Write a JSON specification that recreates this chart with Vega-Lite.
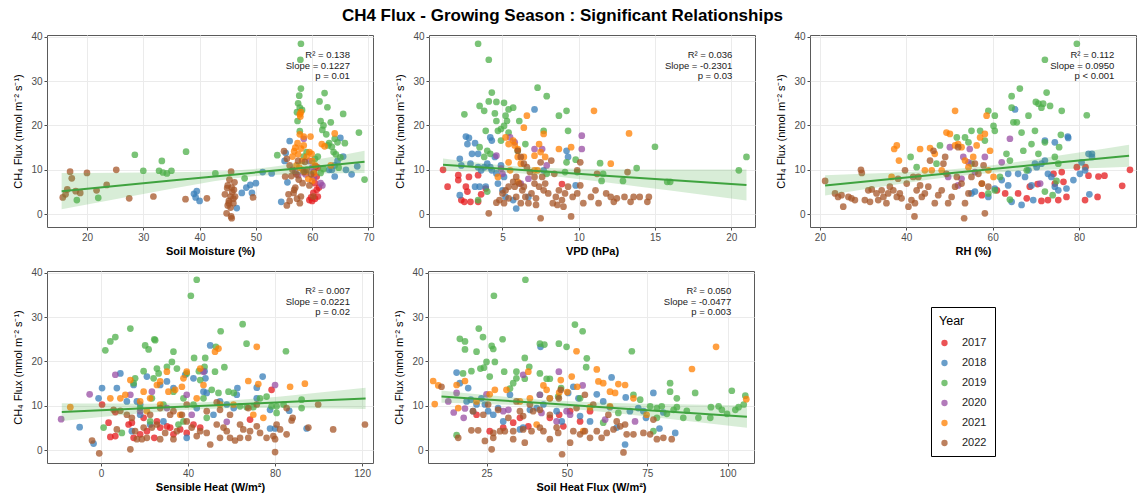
{
"$schema": "https://vega.github.io/schema/vega-lite/v6.json",
"autosize": {"type": "pad"},
"padding": {"left": 12, "top": 7, "right": 0, "bottom": 0},
"title": {"text": "CH4 Flux - Growing Season : Significant Relationships", "anchor": "middle", "fontSize": 17, "fontWeight": "bold", "color": "#000", "offset": 6, "dx": -12},
"spacing": 10,
"datasets": {
"stats": [
{"panel": "sm", "label": "R² = 0.138\nSlope = 0.1227\np = 0.01"},
{"panel": "vpd", "label": "R² = 0.036\nSlope = -0.2301\np = 0.03"},
{"panel": "rh", "label": "R² = 0.112\nSlope = 0.0950\np < 0.001"},
{"panel": "sh", "label": "R² = 0.007\nSlope = 0.0221\np = 0.02"},
{"panel": "shf", "label": "R² = 0.050\nSlope = -0.0477\np = 0.003"}
],
"sm_fit": [
{"x":15.5,"fit":5.2,"lo":1.12,"hi":9.28},{"x":25,"fit":6.37,"lo":3.39,"hi":9.35},{"x":35,"fit":7.59,"lo":5.73,"hi":9.45},{"x":45,"fit":8.81,"lo":7.87,"hi":9.75},{"x":52,"fit":9.67,"lo":8.8,"hi":10.54},{"x":60,"fit":10.66,"lo":9.14,"hi":12.18},{"x":69.3,"fit":11.8,"lo":9.27,"hi":14.33}
],
"vpd_fit": [
{"x":1.1,"fit":11.15,"lo":9.73,"hi":12.57},{"x":4,"fit":10.48,"lo":9.56,"hi":11.4},{"x":6.3,"fit":9.95,"lo":9.2,"hi":10.7},{"x":9,"fit":9.33,"lo":8.35,"hi":10.31},{"x":12,"fit":8.64,"lo":7.12,"hi":10.16},{"x":16,"fit":7.72,"lo":5.35,"hi":10.09},{"x":21,"fit":6.57,"lo":3.08,"hi":10.06}
],
"rh_fit": [
{"x":21.2,"fit":6.5,"lo":4.2,"hi":8.8},{"x":30,"fit":7.34,"lo":5.55,"hi":9.13},{"x":40,"fit":8.29,"lo":7.04,"hi":9.54},{"x":50,"fit":9.24,"lo":8.38,"hi":10.1},{"x":60,"fit":10.19,"lo":9.33,"hi":11.05},{"x":70,"fit":11.14,"lo":9.89,"hi":12.39},{"x":80,"fit":12.09,"lo":10.3,"hi":13.88},{"x":91.6,"fit":13.19,"lo":10.72,"hi":15.66}
],
"sh_fit": [
{"x":-18,"fit":8.6,"lo":6.6,"hi":10.6},{"x":0,"fit":9.0,"lo":7.48,"hi":10.52},{"x":20,"fit":9.44,"lo":8.39,"hi":10.49},{"x":45,"fit":9.99,"lo":9.24,"hi":10.74},{"x":70,"fit":10.54,"lo":9.49,"hi":11.59},{"x":95,"fit":11.09,"lo":9.44,"hi":12.74},{"x":121.6,"fit":11.68,"lo":9.31,"hi":14.05}
],
"shf_fit": [
{"x":11,"fit":12.1,"lo":10.72,"hi":13.48},{"x":25,"fit":11.43,"lo":10.44,"hi":12.42},{"x":42,"fit":10.62,"lo":9.87,"hi":11.37},{"x":60,"fit":9.76,"lo":8.75,"hi":10.77},{"x":80,"fit":8.8,"lo":7.19,"hi":10.41},{"x":106,"fit":7.57,"lo":5.06,"hi":10.08}
],
"sm": [
{"x":59.5,"y":3.2,"Year":"2017"},{"x":60,"y":3,"Year":"2017"},{"x":60.5,"y":3.5,"Year":"2017"},{"x":60.2,"y":4.8,"Year":"2017"},{"x":60.8,"y":5.5,"Year":"2017"},{"x":61,"y":4,"Year":"2017"},{"x":60.5,"y":7,"Year":"2017"},{"x":60.8,"y":8.5,"Year":"2017"},{"x":61,"y":10.5,"Year":"2017"},{"x":60.3,"y":9.5,"Year":"2017"},{"x":61.2,"y":6,"Year":"2017"},{"x":59.8,"y":3.8,"Year":"2017"},{"x":60.6,"y":10.8,"Year":"2017"},
{"x":39,"y":4.6,"Year":"2018"},{"x":39.5,"y":5.2,"Year":"2018"},{"x":40,"y":3.0,"Year":"2018"},{"x":39.3,"y":3.8,"Year":"2018"},{"x":46.6,"y":1.4,"Year":"2018"},{"x":47.5,"y":4.8,"Year":"2018"},{"x":48.3,"y":6.0,"Year":"2018"},{"x":49,"y":6.6,"Year":"2018"},{"x":50,"y":7.0,"Year":"2018"},{"x":49.3,"y":4.8,"Year":"2018"},{"x":51.2,"y":9.5,"Year":"2018"},{"x":52.8,"y":9.2,"Year":"2018"},{"x":54.5,"y":2.8,"Year":"2018"},{"x":55.3,"y":13.8,"Year":"2018"},{"x":56,"y":16.5,"Year":"2018"},{"x":55.1,"y":12.0,"Year":"2018"},{"x":55.6,"y":7.2,"Year":"2018"},{"x":63,"y":10,"Year":"2018"},{"x":64,"y":8.5,"Year":"2018"},{"x":64.5,"y":12,"Year":"2018"},{"x":65.5,"y":13,"Year":"2018"},{"x":66,"y":10,"Year":"2018"},{"x":67,"y":9,"Year":"2018"},{"x":68,"y":10.8,"Year":"2018"},{"x":65,"y":17.2,"Year":"2018"},{"x":64,"y":11,"Year":"2018"},{"x":63.5,"y":10,"Year":"2018"},
{"x":18.2,"y":3.2,"Year":"2019"},{"x":22,"y":3.7,"Year":"2019"},{"x":28.5,"y":13.4,"Year":"2019"},{"x":30,"y":9.8,"Year":"2019"},{"x":32.8,"y":9.8,"Year":"2019"},{"x":33.3,"y":12.0,"Year":"2019"},{"x":33.5,"y":9.4,"Year":"2019"},{"x":34.2,"y":9.2,"Year":"2019"},{"x":35,"y":9.8,"Year":"2019"},{"x":37.6,"y":14.1,"Year":"2019"},{"x":42.8,"y":9.2,"Year":"2019"},{"x":48,"y":8.1,"Year":"2019"},{"x":53.8,"y":13.3,"Year":"2019"},{"x":58,"y":38.4,"Year":"2019"},{"x":57.9,"y":34.8,"Year":"2019"},{"x":58,"y":28.3,"Year":"2019"},{"x":57.7,"y":26.7,"Year":"2019"},{"x":57.5,"y":25,"Year":"2019"},{"x":57.8,"y":24,"Year":"2019"},{"x":57.3,"y":23,"Year":"2019"},{"x":58.2,"y":23.5,"Year":"2019"},{"x":57.4,"y":21,"Year":"2019"},{"x":57.8,"y":18.7,"Year":"2019"},{"x":61.3,"y":25.4,"Year":"2019"},{"x":62.2,"y":27.3,"Year":"2019"},{"x":62.7,"y":24.1,"Year":"2019"},{"x":61.5,"y":21,"Year":"2019"},{"x":62,"y":20,"Year":"2019"},{"x":61.8,"y":19,"Year":"2019"},{"x":62.5,"y":18,"Year":"2019"},{"x":63.3,"y":20.7,"Year":"2019"},{"x":64,"y":17,"Year":"2019"},{"x":63,"y":16,"Year":"2019"},{"x":63.8,"y":14,"Year":"2019"},{"x":64.2,"y":13.5,"Year":"2019"},{"x":65.5,"y":22.6,"Year":"2019"},{"x":65.8,"y":16,"Year":"2019"},{"x":68.3,"y":18.4,"Year":"2019"},{"x":69.3,"y":7.8,"Year":"2019"},{"x":63.5,"y":15.2,"Year":"2019"},{"x":64.7,"y":10.5,"Year":"2019"},{"x":62,"y":10.2,"Year":"2019"},{"x":61.5,"y":9.3,"Year":"2019"},{"x":60.5,"y":12.5,"Year":"2019"},{"x":58.5,"y":13,"Year":"2019"},{"x":59,"y":14,"Year":"2019"},{"x":61,"y":13,"Year":"2019"},{"x":62.8,"y":15.5,"Year":"2019"},{"x":65,"y":12.8,"Year":"2019"},{"x":64.5,"y":16.2,"Year":"2019"},
{"x":58.5,"y":17,"Year":"2020"},{"x":57,"y":9.5,"Year":"2020"},{"x":59.5,"y":12,"Year":"2020"},{"x":60,"y":10.5,"Year":"2020"},{"x":61.5,"y":7,"Year":"2020"},{"x":60.3,"y":8.2,"Year":"2020"},{"x":58.8,"y":9,"Year":"2020"},{"x":57.5,"y":8.8,"Year":"2020"},{"x":61.8,"y":6.5,"Year":"2020"},
{"x":57.8,"y":22.5,"Year":"2021"},{"x":58,"y":23,"Year":"2021"},{"x":57.9,"y":22,"Year":"2021"},{"x":57.8,"y":18,"Year":"2021"},{"x":58.5,"y":17.5,"Year":"2021"},{"x":59.7,"y":17.5,"Year":"2021"},{"x":57,"y":15,"Year":"2021"},{"x":57.5,"y":13.5,"Year":"2021"},{"x":58,"y":14.8,"Year":"2021"},{"x":58.5,"y":15.5,"Year":"2021"},{"x":59,"y":13,"Year":"2021"},{"x":59.5,"y":14,"Year":"2021"},{"x":60,"y":12,"Year":"2021"},{"x":60.5,"y":11,"Year":"2021"},{"x":58.2,"y":12,"Year":"2021"},{"x":57.2,"y":11,"Year":"2021"},{"x":56.5,"y":13,"Year":"2021"},{"x":57.7,"y":10.5,"Year":"2021"},{"x":58.8,"y":9.5,"Year":"2021"},{"x":59.3,"y":8,"Year":"2021"},{"x":60,"y":7.5,"Year":"2021"},{"x":61.7,"y":15.8,"Year":"2021"},{"x":62.2,"y":15.3,"Year":"2021"},{"x":63.3,"y":11,"Year":"2021"},{"x":64,"y":18.2,"Year":"2021"},{"x":58.3,"y":10,"Year":"2021"},{"x":59.9,"y":13.6,"Year":"2021"},{"x":60.3,"y":9.2,"Year":"2021"},{"x":56.8,"y":14.2,"Year":"2021"},{"x":57.4,"y":16,"Year":"2021"},
{"x":15.7,"y":3.8,"Year":"2022"},{"x":16.2,"y":4.5,"Year":"2022"},{"x":16.5,"y":5.6,"Year":"2022"},{"x":17,"y":9.6,"Year":"2022"},{"x":17.3,"y":8.1,"Year":"2022"},{"x":18,"y":5.2,"Year":"2022"},{"x":18.8,"y":4.8,"Year":"2022"},{"x":20,"y":9.3,"Year":"2022"},{"x":21.7,"y":5.4,"Year":"2022"},{"x":23.5,"y":6.6,"Year":"2022"},{"x":25.2,"y":10,"Year":"2022"},{"x":27.5,"y":3.6,"Year":"2022"},{"x":31.8,"y":4.0,"Year":"2022"},{"x":37.5,"y":3.4,"Year":"2022"},{"x":41.3,"y":3.6,"Year":"2022"},{"x":49.5,"y":3.8,"Year":"2022"},{"x":44.8,"y":0.2,"Year":"2022"},{"x":45.6,"y":-0.5,"Year":"2022"},{"x":45.7,"y":-0.9,"Year":"2022"},{"x":45,"y":2,"Year":"2022"},{"x":45.2,"y":3,"Year":"2022"},{"x":45.5,"y":4,"Year":"2022"},{"x":45.8,"y":5,"Year":"2022"},{"x":46,"y":3.5,"Year":"2022"},{"x":44.9,"y":5.9,"Year":"2022"},{"x":45.3,"y":7.8,"Year":"2022"},{"x":45.6,"y":9.6,"Year":"2022"},{"x":46.2,"y":7.2,"Year":"2022"},{"x":45,"y":6.5,"Year":"2022"},{"x":45.5,"y":1.5,"Year":"2022"},{"x":46,"y":2.5,"Year":"2022"},{"x":44.5,"y":4.5,"Year":"2022"},{"x":46.3,"y":4,"Year":"2022"},{"x":45.2,"y":2.5,"Year":"2022"},{"x":45.7,"y":6,"Year":"2022"},{"x":46.1,"y":5.5,"Year":"2022"},{"x":55,"y":14.2,"Year":"2022"},{"x":55.5,"y":12.5,"Year":"2022"},{"x":56,"y":11,"Year":"2022"},{"x":56.3,"y":8.6,"Year":"2022"},{"x":56.5,"y":10,"Year":"2022"},{"x":55.8,"y":4.5,"Year":"2022"},{"x":56,"y":3,"Year":"2022"},{"x":55.5,"y":2,"Year":"2022"},{"x":56.7,"y":4.8,"Year":"2022"},{"x":57,"y":6,"Year":"2022"},{"x":57.2,"y":9,"Year":"2022"},{"x":57.5,"y":12,"Year":"2022"},{"x":57.8,"y":2.5,"Year":"2022"},{"x":58,"y":4,"Year":"2022"},{"x":58.3,"y":7,"Year":"2022"},{"x":58.5,"y":9.5,"Year":"2022"},{"x":59,"y":10,"Year":"2022"},{"x":59.5,"y":6.5,"Year":"2022"},{"x":59.8,"y":9,"Year":"2022"},{"x":60.2,"y":4,"Year":"2022"},{"x":57.3,"y":3.5,"Year":"2022"},{"x":56.8,"y":5.5,"Year":"2022"},{"x":55.2,"y":8.5,"Year":"2022"},{"x":57.6,"y":7.8,"Year":"2022"},{"x":58.7,"y":11.8,"Year":"2022"}
],
"vpd": [
{"x":1.1,"y":10,"Year":"2017"},{"x":1.4,"y":6.2,"Year":"2017"},{"x":2.1,"y":8.8,"Year":"2017"},{"x":2.1,"y":7.7,"Year":"2017"},{"x":2.3,"y":3.2,"Year":"2017"},{"x":2.6,"y":6.2,"Year":"2017"},{"x":2.7,"y":5.1,"Year":"2017"},{"x":2.5,"y":2.8,"Year":"2017"},{"x":2.8,"y":8.4,"Year":"2017"},{"x":2.9,"y":2.8,"Year":"2017"},{"x":3.4,"y":8.8,"Year":"2017"},{"x":3.6,"y":4.5,"Year":"2017"},{"x":3.9,"y":5.8,"Year":"2017"},{"x":8.9,"y":6.8,"Year":"2017"},{"x":3.4,"y":2.8,"Year":"2017"},
{"x":2.2,"y":12.5,"Year":"2018"},{"x":2.3,"y":11,"Year":"2018"},{"x":2.2,"y":4.3,"Year":"2018"},{"x":2.6,"y":17.5,"Year":"2018"},{"x":2.8,"y":17.2,"Year":"2018"},{"x":2.7,"y":15.8,"Year":"2018"},{"x":3.2,"y":16,"Year":"2018"},{"x":3.0,"y":13.6,"Year":"2018"},{"x":3.4,"y":13.6,"Year":"2018"},{"x":2.9,"y":11.4,"Year":"2018"},{"x":3.4,"y":10.6,"Year":"2018"},{"x":3.6,"y":9.9,"Year":"2018"},{"x":3.8,"y":10.6,"Year":"2018"},{"x":4.0,"y":11.4,"Year":"2018"},{"x":4.2,"y":10.6,"Year":"2018"},{"x":4.5,"y":12.9,"Year":"2018"},{"x":4.3,"y":9.9,"Year":"2018"},{"x":4.6,"y":9.2,"Year":"2018"},{"x":3.2,"y":6.2,"Year":"2018"},{"x":3.5,"y":6.2,"Year":"2018"},{"x":3.9,"y":6.2,"Year":"2018"},{"x":4.2,"y":17.3,"Year":"2018"},{"x":4.3,"y":16.6,"Year":"2018"},{"x":4.7,"y":6.9,"Year":"2018"},{"x":5.0,"y":5.4,"Year":"2018"},{"x":5.2,"y":3.9,"Year":"2018"},{"x":5.7,"y":3.2,"Year":"2018"},{"x":5.9,"y":1.3,"Year":"2018"},{"x":6.7,"y":3.9,"Year":"2018"},{"x":7.1,"y":23.6,"Year":"2018"},{"x":7.7,"y":9.9,"Year":"2018"},{"x":9.2,"y":14.3,"Year":"2018"},{"x":9.3,"y":12.9,"Year":"2018"},{"x":9.8,"y":6.5,"Year":"2018"},{"x":4.9,"y":11,"Year":"2018"},{"x":5.1,"y":8.4,"Year":"2018"},
{"x":3.4,"y":38.4,"Year":"2019"},{"x":4.1,"y":34.8,"Year":"2019"},{"x":4.3,"y":27.4,"Year":"2019"},{"x":4.1,"y":25.4,"Year":"2019"},{"x":4.6,"y":25.3,"Year":"2019"},{"x":3.5,"y":24.4,"Year":"2019"},{"x":3.8,"y":23.3,"Year":"2019"},{"x":4.5,"y":22.7,"Year":"2019"},{"x":2.5,"y":22.5,"Year":"2019"},{"x":5.1,"y":25.1,"Year":"2019"},{"x":5.2,"y":22.2,"Year":"2019"},{"x":5.3,"y":21.0,"Year":"2019"},{"x":5.7,"y":24.0,"Year":"2019"},{"x":5.4,"y":23.6,"Year":"2019"},{"x":4.6,"y":21.0,"Year":"2019"},{"x":4.7,"y":18.8,"Year":"2019"},{"x":4.9,"y":19.2,"Year":"2019"},{"x":5.1,"y":19.9,"Year":"2019"},{"x":5.4,"y":18.4,"Year":"2019"},{"x":6.1,"y":21.0,"Year":"2019"},{"x":6.5,"y":15.8,"Year":"2019"},{"x":7.3,"y":28.5,"Year":"2019"},{"x":7.9,"y":26.6,"Year":"2019"},{"x":8.7,"y":22.2,"Year":"2019"},{"x":9.2,"y":23.3,"Year":"2019"},{"x":9.3,"y":18.8,"Year":"2019"},{"x":7.7,"y":18.8,"Year":"2019"},{"x":3.5,"y":15.1,"Year":"2019"},{"x":3.8,"y":12.9,"Year":"2019"},{"x":4.0,"y":14.3,"Year":"2019"},{"x":4.2,"y":13.6,"Year":"2019"},{"x":6.0,"y":14.3,"Year":"2019"},{"x":9.8,"y":12.3,"Year":"2019"},{"x":9.2,"y":11.7,"Year":"2019"},{"x":9.9,"y":9.5,"Year":"2019"},{"x":9.1,"y":9.5,"Year":"2019"},{"x":11.4,"y":11.5,"Year":"2019"},{"x":11.5,"y":7.5,"Year":"2019"},{"x":11.6,"y":9.1,"Year":"2019"},{"x":12.9,"y":7.5,"Year":"2019"},{"x":13.8,"y":10.4,"Year":"2019"},{"x":15.0,"y":15.2,"Year":"2019"},{"x":15.8,"y":7.3,"Year":"2019"},{"x":16.0,"y":7.3,"Year":"2019"},{"x":20.5,"y":9.9,"Year":"2019"},{"x":21.0,"y":12.9,"Year":"2019"},{"x":3.4,"y":3.2,"Year":"2019"},{"x":4.0,"y":5.1,"Year":"2019"},{"x":7.9,"y":9.1,"Year":"2019"},{"x":4.9,"y":16.6,"Year":"2019"},{"x":3.9,"y":18.8,"Year":"2019"},
{"x":4.6,"y":13.2,"Year":"2020"},{"x":4.9,"y":10.3,"Year":"2020"},{"x":5.5,"y":17.3,"Year":"2020"},{"x":5.8,"y":16.2,"Year":"2020"},{"x":7.1,"y":14.7,"Year":"2020"},{"x":7.6,"y":14.7,"Year":"2020"},{"x":7.9,"y":11.0,"Year":"2020"},{"x":10.2,"y":17.7,"Year":"2020"},{"x":10.2,"y":14.7,"Year":"2020"},{"x":6.2,"y":6.9,"Year":"2020"},{"x":6.7,"y":8.0,"Year":"2020"},{"x":5.0,"y":9.1,"Year":"2020"},
{"x":5.2,"y":17.3,"Year":"2021"},{"x":5.4,"y":15.8,"Year":"2021"},{"x":5.7,"y":16.6,"Year":"2021"},{"x":5.8,"y":15.5,"Year":"2021"},{"x":6.0,"y":14.7,"Year":"2021"},{"x":6.4,"y":19.5,"Year":"2021"},{"x":6.6,"y":22.2,"Year":"2021"},{"x":7.7,"y":18.1,"Year":"2021"},{"x":7.5,"y":14.0,"Year":"2021"},{"x":7.1,"y":13.2,"Year":"2021"},{"x":7.4,"y":15.8,"Year":"2021"},{"x":7.8,"y":12.9,"Year":"2021"},{"x":8.7,"y":14.7,"Year":"2021"},{"x":9.5,"y":15.1,"Year":"2021"},{"x":11.0,"y":23.3,"Year":"2021"},{"x":12.1,"y":11.4,"Year":"2021"},{"x":13.3,"y":18.2,"Year":"2021"},{"x":6.0,"y":12.9,"Year":"2021"},{"x":6.2,"y":11.4,"Year":"2021"},{"x":5.5,"y":9.9,"Year":"2021"},{"x":7.3,"y":9.9,"Year":"2021"},{"x":4.7,"y":8.4,"Year":"2021"},{"x":6.0,"y":7.3,"Year":"2021"},{"x":6.4,"y":12.9,"Year":"2021"},{"x":5.4,"y":11.7,"Year":"2021"},{"x":7.1,"y":9.9,"Year":"2021"},
{"x":4.1,"y":0.2,"Year":"2022"},{"x":7.5,"y":-0.9,"Year":"2022"},{"x":9.5,"y":-0.5,"Year":"2022"},{"x":4.6,"y":2.6,"Year":"2022"},{"x":4.8,"y":3.2,"Year":"2022"},{"x":5.0,"y":4.7,"Year":"2022"},{"x":5.2,"y":5.4,"Year":"2022"},{"x":5.4,"y":6.2,"Year":"2022"},{"x":5.7,"y":7.3,"Year":"2022"},{"x":5.9,"y":8.4,"Year":"2022"},{"x":6.1,"y":6.9,"Year":"2022"},{"x":6.3,"y":5.4,"Year":"2022"},{"x":6.5,"y":3.9,"Year":"2022"},{"x":6.7,"y":2.5,"Year":"2022"},{"x":6.9,"y":4.7,"Year":"2022"},{"x":7.2,"y":3.6,"Year":"2022"},{"x":7.4,"y":6.2,"Year":"2022"},{"x":7.6,"y":8.4,"Year":"2022"},{"x":7.8,"y":6.9,"Year":"2022"},{"x":8.0,"y":4.7,"Year":"2022"},{"x":8.3,"y":2.5,"Year":"2022"},{"x":8.5,"y":3.9,"Year":"2022"},{"x":8.7,"y":5.4,"Year":"2022"},{"x":8.9,"y":3.2,"Year":"2022"},{"x":9.1,"y":4.7,"Year":"2022"},{"x":9.3,"y":6.2,"Year":"2022"},{"x":9.6,"y":3.9,"Year":"2022"},{"x":9.9,"y":4.7,"Year":"2022"},{"x":10.1,"y":6.5,"Year":"2022"},{"x":10.3,"y":2.5,"Year":"2022"},{"x":10.8,"y":3.9,"Year":"2022"},{"x":11.1,"y":5.4,"Year":"2022"},{"x":11.3,"y":2.5,"Year":"2022"},{"x":11.8,"y":4.7,"Year":"2022"},{"x":12.1,"y":3.9,"Year":"2022"},{"x":12.3,"y":2.8,"Year":"2022"},{"x":12.5,"y":3.6,"Year":"2022"},{"x":13.0,"y":3.9,"Year":"2022"},{"x":13.4,"y":2.8,"Year":"2022"},{"x":13.6,"y":3.9,"Year":"2022"},{"x":14.0,"y":3.9,"Year":"2022"},{"x":14.5,"y":2.8,"Year":"2022"},{"x":14.6,"y":3.9,"Year":"2022"},{"x":9.9,"y":9.9,"Year":"2022"},{"x":10.1,"y":11.7,"Year":"2022"},{"x":11.2,"y":9.1,"Year":"2022"},{"x":13.2,"y":9.5,"Year":"2022"},{"x":6.0,"y":14.3,"Year":"2022"},{"x":6.2,"y":12.9,"Year":"2022"},{"x":6.4,"y":11.4,"Year":"2022"},{"x":6.6,"y":10.6,"Year":"2022"},{"x":6.8,"y":9.5,"Year":"2022"},{"x":7.1,"y":8.4,"Year":"2022"},{"x":7.5,"y":11.7,"Year":"2022"},{"x":8.2,"y":12.1,"Year":"2022"},{"x":8.4,"y":9.1,"Year":"2022"},{"x":5.1,"y":2.5,"Year":"2022"},{"x":5.4,"y":3.6,"Year":"2022"},{"x":5.9,"y":3.9,"Year":"2022"},{"x":6.2,"y":2.5,"Year":"2022"},{"x":7.2,"y":2.1,"Year":"2022"},{"x":8.6,"y":2.1,"Year":"2022"},{"x":9.0,"y":1.7,"Year":"2022"},{"x":5.8,"y":6.2,"Year":"2022"},{"x":6.4,"y":6.2,"Year":"2022"},{"x":7.1,"y":6.9,"Year":"2022"},{"x":7.7,"y":5.4,"Year":"2022"}
],
"rh": [
{"x":91.8,"y":10.0,"Year":"2017"},{"x":90.0,"y":6.4,"Year":"2017"},{"x":85.9,"y":8.7,"Year":"2017"},{"x":84.5,"y":8.5,"Year":"2017"},{"x":82.2,"y":8.7,"Year":"2017"},{"x":81.5,"y":10.6,"Year":"2017"},{"x":84.3,"y":3.9,"Year":"2017"},{"x":81.4,"y":3.2,"Year":"2017"},{"x":79.5,"y":10.6,"Year":"2017"},{"x":76.0,"y":9.5,"Year":"2017"},{"x":74.4,"y":6.9,"Year":"2017"},{"x":72.8,"y":3.2,"Year":"2017"},{"x":71.3,"y":3.0,"Year":"2017"},{"x":67.9,"y":3.6,"Year":"2017"},{"x":65.9,"y":4.7,"Year":"2017"},{"x":68.6,"y":6.2,"Year":"2017"},{"x":70.4,"y":6.8,"Year":"2017"},{"x":75.2,"y":3.2,"Year":"2017"},{"x":77.1,"y":3.9,"Year":"2017"},{"x":62.9,"y":4.7,"Year":"2017"},{"x":61.0,"y":5.4,"Year":"2017"},{"x":57.5,"y":4.3,"Year":"2017"},{"x":76.4,"y":7.3,"Year":"2017"},{"x":74.1,"y":9.1,"Year":"2017"},
{"x":65.2,"y":23.6,"Year":"2018"},{"x":72.1,"y":16.6,"Year":"2018"},{"x":74.4,"y":16.2,"Year":"2018"},{"x":77.4,"y":17.5,"Year":"2018"},{"x":77.5,"y":17.2,"Year":"2018"},{"x":80.6,"y":11.7,"Year":"2018"},{"x":82.2,"y":13.6,"Year":"2018"},{"x":83.0,"y":13.6,"Year":"2018"},{"x":83.0,"y":12.9,"Year":"2018"},{"x":82.4,"y":4.5,"Year":"2018"},{"x":66.7,"y":2.1,"Year":"2018"},{"x":64.4,"y":2.8,"Year":"2018"},{"x":69.4,"y":3.2,"Year":"2018"},{"x":69.0,"y":6.5,"Year":"2018"},{"x":67.5,"y":8.4,"Year":"2018"},{"x":68.3,"y":9.9,"Year":"2018"},{"x":69.8,"y":11.4,"Year":"2018"},{"x":70.2,"y":10.6,"Year":"2018"},{"x":71.3,"y":11.4,"Year":"2018"},{"x":72.1,"y":12.1,"Year":"2018"},{"x":72.8,"y":9.1,"Year":"2018"},{"x":73.6,"y":8.4,"Year":"2018"},{"x":74.4,"y":6.2,"Year":"2018"},{"x":75.2,"y":5.4,"Year":"2018"},{"x":77.1,"y":5.8,"Year":"2018"},{"x":78.7,"y":7.7,"Year":"2018"},{"x":63.6,"y":9.1,"Year":"2018"},{"x":62.1,"y":7.7,"Year":"2018"},{"x":60.5,"y":5.8,"Year":"2018"},{"x":59.0,"y":3.9,"Year":"2018"},{"x":55.1,"y":4.7,"Year":"2018"},{"x":55.9,"y":5.1,"Year":"2018"},{"x":63.6,"y":6.5,"Year":"2018"},{"x":65.9,"y":9.1,"Year":"2018"},{"x":81.4,"y":9.9,"Year":"2018"},{"x":80.2,"y":9.1,"Year":"2018"},
{"x":79.5,"y":38.4,"Year":"2019"},{"x":72.1,"y":34.8,"Year":"2019"},{"x":66.3,"y":28.3,"Year":"2019"},{"x":64.4,"y":26.6,"Year":"2019"},{"x":72.5,"y":27.4,"Year":"2019"},{"x":64.4,"y":24.0,"Year":"2019"},{"x":68.3,"y":22.2,"Year":"2019"},{"x":70.0,"y":25.3,"Year":"2019"},{"x":70.6,"y":24.9,"Year":"2019"},{"x":71.7,"y":24.9,"Year":"2019"},{"x":71.3,"y":24.0,"Year":"2019"},{"x":73.3,"y":24.4,"Year":"2019"},{"x":76.0,"y":23.3,"Year":"2019"},{"x":81.8,"y":22.3,"Year":"2019"},{"x":59.0,"y":23.3,"Year":"2019"},{"x":60.5,"y":22.2,"Year":"2019"},{"x":60.2,"y":19.9,"Year":"2019"},{"x":60.5,"y":18.8,"Year":"2019"},{"x":64.8,"y":20.7,"Year":"2019"},{"x":65.6,"y":20.7,"Year":"2019"},{"x":66.7,"y":18.4,"Year":"2019"},{"x":72.1,"y":16.2,"Year":"2019"},{"x":69.0,"y":15.8,"Year":"2019"},{"x":69.8,"y":18.8,"Year":"2019"},{"x":75.4,"y":15.1,"Year":"2019"},{"x":75.8,"y":17.9,"Year":"2019"},{"x":55.1,"y":18.8,"Year":"2019"},{"x":57.1,"y":18.8,"Year":"2019"},{"x":58.2,"y":16.6,"Year":"2019"},{"x":54.4,"y":16.2,"Year":"2019"},{"x":53.6,"y":17.3,"Year":"2019"},{"x":51.7,"y":17.3,"Year":"2019"},{"x":47.8,"y":15.5,"Year":"2019"},{"x":41.0,"y":12.9,"Year":"2019"},{"x":42.4,"y":10.6,"Year":"2019"},{"x":47.0,"y":11.4,"Year":"2019"},{"x":63.2,"y":13.6,"Year":"2019"},{"x":64.0,"y":12.1,"Year":"2019"},{"x":67.1,"y":14.3,"Year":"2019"},{"x":70.6,"y":13.6,"Year":"2019"},{"x":74.4,"y":12.9,"Year":"2019"},{"x":75.2,"y":11.4,"Year":"2019"},{"x":74.8,"y":7.5,"Year":"2019"},{"x":73.9,"y":4.3,"Year":"2019"},{"x":64.0,"y":3.3,"Year":"2019"},{"x":60.5,"y":5.4,"Year":"2019"},{"x":59.0,"y":4.7,"Year":"2019"},{"x":72.1,"y":5.1,"Year":"2019"},{"x":61.7,"y":8.4,"Year":"2019"},{"x":67.9,"y":9.9,"Year":"2019"},{"x":55.1,"y":11.4,"Year":"2019"},
{"x":50.1,"y":15.1,"Year":"2020"},{"x":53.2,"y":12.9,"Year":"2020"},{"x":54.7,"y":14.7,"Year":"2020"},{"x":54.4,"y":11.7,"Year":"2020"},{"x":52.0,"y":6.5,"Year":"2020"},{"x":52.8,"y":8.0,"Year":"2020"},{"x":55.9,"y":9.5,"Year":"2020"},{"x":58.2,"y":12.9,"Year":"2020"},{"x":62.1,"y":11.7,"Year":"2020"},{"x":64.0,"y":17.0,"Year":"2020"},{"x":71.0,"y":6.9,"Year":"2020"},{"x":49.7,"y":8.4,"Year":"2020"},
{"x":36.6,"y":8.4,"Year":"2021"},{"x":37.2,"y":14.7,"Year":"2021"},{"x":37.8,"y":15.5,"Year":"2021"},{"x":38.3,"y":12.1,"Year":"2021"},{"x":43.2,"y":14.7,"Year":"2021"},{"x":45.5,"y":14.9,"Year":"2021"},{"x":46.6,"y":13.6,"Year":"2021"},{"x":49.3,"y":18.4,"Year":"2021"},{"x":50.1,"y":18.1,"Year":"2021"},{"x":51.3,"y":23.3,"Year":"2021"},{"x":51.3,"y":15.5,"Year":"2021"},{"x":52.0,"y":15.8,"Year":"2021"},{"x":52.8,"y":15.1,"Year":"2021"},{"x":53.6,"y":12.1,"Year":"2021"},{"x":54.4,"y":10.6,"Year":"2021"},{"x":55.5,"y":12.9,"Year":"2021"},{"x":56.3,"y":15.5,"Year":"2021"},{"x":57.1,"y":17.3,"Year":"2021"},{"x":58.2,"y":18.1,"Year":"2021"},{"x":58.6,"y":22.2,"Year":"2021"},{"x":59.4,"y":14.3,"Year":"2021"},{"x":59.0,"y":9.9,"Year":"2021"},{"x":60.2,"y":8.4,"Year":"2021"},{"x":48.2,"y":9.9,"Year":"2021"},{"x":44.3,"y":9.9,"Year":"2021"},{"x":45.9,"y":9.9,"Year":"2021"},{"x":57.5,"y":6.9,"Year":"2021"},
{"x":21.2,"y":7.5,"Year":"2022"},{"x":23.5,"y":4.7,"Year":"2022"},{"x":24.2,"y":3.9,"Year":"2022"},{"x":25.0,"y":4.3,"Year":"2022"},{"x":25.4,"y":1.7,"Year":"2022"},{"x":26.6,"y":3.9,"Year":"2022"},{"x":27.3,"y":3.6,"Year":"2022"},{"x":28.1,"y":3.2,"Year":"2022"},{"x":29.7,"y":9.3,"Year":"2022"},{"x":29.5,"y":10.0,"Year":"2022"},{"x":30.4,"y":3.2,"Year":"2022"},{"x":31.6,"y":2.8,"Year":"2022"},{"x":32.0,"y":5.6,"Year":"2022"},{"x":33.1,"y":4.7,"Year":"2022"},{"x":33.5,"y":3.2,"Year":"2022"},{"x":34.3,"y":5.4,"Year":"2022"},{"x":34.7,"y":3.9,"Year":"2022"},{"x":35.4,"y":2.5,"Year":"2022"},{"x":35.8,"y":4.7,"Year":"2022"},{"x":36.2,"y":6.2,"Year":"2022"},{"x":38.1,"y":8.0,"Year":"2022"},{"x":38.5,"y":4.7,"Year":"2022"},{"x":38.9,"y":3.6,"Year":"2022"},{"x":39.7,"y":9.9,"Year":"2022"},{"x":40.1,"y":6.9,"Year":"2022"},{"x":40.5,"y":1.7,"Year":"2022"},{"x":41.2,"y":3.2,"Year":"2022"},{"x":41.9,"y":-0.5,"Year":"2022"},{"x":42.0,"y":2.5,"Year":"2022"},{"x":42.4,"y":5.4,"Year":"2022"},{"x":42.8,"y":8.4,"Year":"2022"},{"x":43.2,"y":6.5,"Year":"2022"},{"x":43.6,"y":3.9,"Year":"2022"},{"x":44.3,"y":4.7,"Year":"2022"},{"x":45.1,"y":6.2,"Year":"2022"},{"x":45.5,"y":12.1,"Year":"2022"},{"x":46.3,"y":14.3,"Year":"2022"},{"x":46.6,"y":2.5,"Year":"2022"},{"x":47.4,"y":4.3,"Year":"2022"},{"x":48.2,"y":5.4,"Year":"2022"},{"x":48.6,"y":11.4,"Year":"2022"},{"x":49.0,"y":12.9,"Year":"2022"},{"x":49.3,"y":9.1,"Year":"2022"},{"x":49.7,"y":2.5,"Year":"2022"},{"x":50.5,"y":3.9,"Year":"2022"},{"x":51.3,"y":6.2,"Year":"2022"},{"x":51.7,"y":8.4,"Year":"2022"},{"x":52.0,"y":15.1,"Year":"2022"},{"x":52.8,"y":6.9,"Year":"2022"},{"x":53.4,"y":-0.9,"Year":"2022"},{"x":53.6,"y":2.5,"Year":"2022"},{"x":54.4,"y":4.7,"Year":"2022"},{"x":55.1,"y":8.4,"Year":"2022"},{"x":57.5,"y":6.9,"Year":"2022"},{"x":58.2,"y":0.2,"Year":"2022"},{"x":59.0,"y":6.2,"Year":"2022"},{"x":55.9,"y":11.4,"Year":"2022"},{"x":56.7,"y":9.1,"Year":"2022"},{"x":57.9,"y":11.0,"Year":"2022"},{"x":37.8,"y":3.9,"Year":"2022"},{"x":37.0,"y":5.4,"Year":"2022"},{"x":31.2,"y":5.4,"Year":"2022"},{"x":41.6,"y":8.4,"Year":"2022"}
],
"sh": [
{"x":0.5,"y":10.3,"Year":"2017"},{"x":3.5,"y":6.2,"Year":"2017"},{"x":4.3,"y":3.0,"Year":"2017"},{"x":6.6,"y":3.2,"Year":"2017"},{"x":6.6,"y":8.6,"Year":"2017"},{"x":12.7,"y":5.8,"Year":"2017"},{"x":14.2,"y":6.2,"Year":"2017"},{"x":15.0,"y":2.8,"Year":"2017"},{"x":19.6,"y":7.3,"Year":"2017"},{"x":21.1,"y":4.3,"Year":"2017"},{"x":24.5,"y":2.8,"Year":"2017"},{"x":27.2,"y":5.1,"Year":"2017"},{"x":30.3,"y":5.4,"Year":"2017"},{"x":31.8,"y":5.1,"Year":"2017"},{"x":33.3,"y":3.6,"Year":"2017"},{"x":36.4,"y":4.7,"Year":"2017"},{"x":39.4,"y":3.9,"Year":"2017"},{"x":42.5,"y":5.8,"Year":"2017"},{"x":45.6,"y":5.1,"Year":"2017"},{"x":68.5,"y":6.9,"Year":"2017"},{"x":78.4,"y":13.6,"Year":"2017"},{"x":25.7,"y":6.5,"Year":"2017"},{"x":18.0,"y":3.6,"Year":"2017"},
{"x":50.2,"y":23.6,"Year":"2018"},{"x":-9.8,"y":5.2,"Year":"2018"},{"x":-3.4,"y":1.5,"Year":"2018"},{"x":-1.1,"y":11.7,"Year":"2018"},{"x":0.5,"y":14.0,"Year":"2018"},{"x":8.9,"y":17.3,"Year":"2018"},{"x":15,"y":14.7,"Year":"2018"},{"x":16.5,"y":11.0,"Year":"2018"},{"x":21.1,"y":16.6,"Year":"2018"},{"x":27.2,"y":14.7,"Year":"2018"},{"x":30.3,"y":15.5,"Year":"2018"},{"x":33.3,"y":14.0,"Year":"2018"},{"x":38.7,"y":17.0,"Year":"2018"},{"x":42.5,"y":16.2,"Year":"2018"},{"x":47.6,"y":17.8,"Year":"2018"},{"x":48.0,"y":16.2,"Year":"2018"},{"x":47.1,"y":13.2,"Year":"2018"},{"x":48.6,"y":12.9,"Year":"2018"},{"x":54.7,"y":11.0,"Year":"2018"},{"x":57.8,"y":10.3,"Year":"2018"},{"x":61.0,"y":9.5,"Year":"2018"},{"x":62.7,"y":14.0,"Year":"2018"},{"x":62.4,"y":12.5,"Year":"2018"},{"x":71.6,"y":14.1,"Year":"2018"},{"x":74.3,"y":16.6,"Year":"2018"},{"x":71.6,"y":11.7,"Year":"2018"},{"x":77.7,"y":9.1,"Year":"2018"},{"x":80.0,"y":4.9,"Year":"2018"},{"x":77.7,"y":4.9,"Year":"2018"},{"x":86.5,"y":8.9,"Year":"2018"},{"x":94.5,"y":4.9,"Year":"2018"},{"x":7.3,"y":14.0,"Year":"2018"},{"x":18,"y":8.0,"Year":"2018"},{"x":22.6,"y":5.8,"Year":"2018"},{"x":28.7,"y":6.5,"Year":"2018"},{"x":39.4,"y":2.8,"Year":"2018"},{"x":18.0,"y":10.3,"Year":"2018"},{"x":11.9,"y":11.0,"Year":"2018"},{"x":44.0,"y":9.5,"Year":"2018"},{"x":51.7,"y":8.0,"Year":"2018"},{"x":14.2,"y":4.3,"Year":"2018"},
{"x":44.0,"y":38.4,"Year":"2019"},{"x":41.3,"y":34.8,"Year":"2019"},{"x":13.5,"y":27.4,"Year":"2019"},{"x":6.6,"y":25.5,"Year":"2019"},{"x":4.3,"y":24.5,"Year":"2019"},{"x":2.0,"y":22.5,"Year":"2019"},{"x":20.3,"y":23.6,"Year":"2019"},{"x":21.9,"y":22.7,"Year":"2019"},{"x":24.5,"y":25.0,"Year":"2019"},{"x":24.9,"y":24.8,"Year":"2019"},{"x":33.3,"y":22.2,"Year":"2019"},{"x":42.8,"y":20.8,"Year":"2019"},{"x":47.9,"y":20.8,"Year":"2019"},{"x":52.8,"y":23.3,"Year":"2019"},{"x":55.0,"y":26.8,"Year":"2019"},{"x":65.1,"y":28.4,"Year":"2019"},{"x":66.9,"y":24.0,"Year":"2019"},{"x":85.0,"y":22.3,"Year":"2019"},{"x":56.7,"y":18.7,"Year":"2019"},{"x":52.4,"y":17.7,"Year":"2019"},{"x":47.6,"y":18.8,"Year":"2019"},{"x":45.0,"y":17.8,"Year":"2019"},{"x":39.4,"y":17.3,"Year":"2019"},{"x":34.9,"y":18.4,"Year":"2019"},{"x":32.6,"y":19.9,"Year":"2019"},{"x":30.3,"y":18.8,"Year":"2019"},{"x":25.7,"y":18.4,"Year":"2019"},{"x":26.5,"y":17.3,"Year":"2019"},{"x":24.2,"y":16.2,"Year":"2019"},{"x":19.6,"y":17.8,"Year":"2019"},{"x":15.7,"y":16.2,"Year":"2019"},{"x":15.0,"y":15.1,"Year":"2019"},{"x":58.6,"y":13.2,"Year":"2019"},{"x":61.0,"y":12.9,"Year":"2019"},{"x":54.0,"y":12.9,"Year":"2019"},{"x":50.9,"y":13.6,"Year":"2019"},{"x":47.1,"y":11.7,"Year":"2019"},{"x":42.5,"y":10.3,"Year":"2019"},{"x":37.9,"y":11.7,"Year":"2019"},{"x":33.3,"y":13.2,"Year":"2019"},{"x":28.7,"y":10.3,"Year":"2019"},{"x":23.4,"y":11.7,"Year":"2019"},{"x":18.0,"y":9.5,"Year":"2019"},{"x":1.2,"y":5.1,"Year":"2019"},{"x":9.6,"y":3.9,"Year":"2019"},{"x":35.6,"y":5.8,"Year":"2019"},{"x":70.0,"y":9.7,"Year":"2019"},{"x":73.1,"y":11.7,"Year":"2019"},{"x":76.1,"y":12.1,"Year":"2019"},{"x":80.7,"y":9.9,"Year":"2019"},{"x":80.7,"y":8.4,"Year":"2019"},{"x":83.9,"y":10.3,"Year":"2019"},{"x":92.2,"y":11.4,"Year":"2019"},{"x":92.2,"y":9.5,"Year":"2019"},{"x":78.4,"y":9.9,"Year":"2019"},{"x":45.6,"y":15.8,"Year":"2019"},{"x":48.6,"y":7.3,"Year":"2019"},{"x":63.9,"y":9.9,"Year":"2019"},{"x":67.0,"y":9.7,"Year":"2019"},{"x":37.9,"y":6.5,"Year":"2019"},{"x":22.6,"y":6.5,"Year":"2019"},
{"x":-18.3,"y":7.0,"Year":"2020"},{"x":-5.2,"y":12.6,"Year":"2020"},{"x":6.6,"y":17.0,"Year":"2020"},{"x":23.4,"y":13.2,"Year":"2020"},{"x":39.4,"y":12.5,"Year":"2020"},{"x":47.1,"y":17.7,"Year":"2020"},{"x":57.8,"y":6.4,"Year":"2020"},{"x":80.0,"y":14.7,"Year":"2020"},{"x":30.3,"y":9.5,"Year":"2020"},{"x":13.5,"y":12.5,"Year":"2020"},{"x":41.7,"y":8.0,"Year":"2020"},{"x":18,"y":8.8,"Year":"2020"},
{"x":-14.1,"y":9.7,"Year":"2021"},{"x":4.3,"y":11.7,"Year":"2021"},{"x":13.5,"y":15.8,"Year":"2021"},{"x":11.2,"y":12.5,"Year":"2021"},{"x":19.6,"y":13.2,"Year":"2021"},{"x":22.6,"y":11.7,"Year":"2021"},{"x":25.7,"y":14.7,"Year":"2021"},{"x":27.2,"y":15.5,"Year":"2021"},{"x":30.3,"y":17.7,"Year":"2021"},{"x":31.0,"y":13.2,"Year":"2021"},{"x":34.1,"y":13.6,"Year":"2021"},{"x":37.2,"y":14.3,"Year":"2021"},{"x":37.9,"y":16.2,"Year":"2021"},{"x":39.4,"y":17.7,"Year":"2021"},{"x":45.6,"y":18.4,"Year":"2021"},{"x":47.1,"y":14.7,"Year":"2021"},{"x":52.4,"y":22.2,"Year":"2021"},{"x":54.0,"y":22.9,"Year":"2021"},{"x":60.9,"y":10.3,"Year":"2021"},{"x":67.7,"y":15.6,"Year":"2021"},{"x":71.6,"y":23.3,"Year":"2021"},{"x":72.3,"y":14.9,"Year":"2021"},{"x":74.6,"y":7.3,"Year":"2021"},{"x":86.9,"y":14.3,"Year":"2021"},{"x":93.7,"y":15.0,"Year":"2021"},{"x":27.2,"y":10.3,"Year":"2021"},{"x":18.0,"y":11.0,"Year":"2021"},{"x":36.4,"y":8.0,"Year":"2021"},{"x":8.9,"y":11.7,"Year":"2021"},{"x":70.0,"y":8.0,"Year":"2021"},{"x":54.7,"y":10.3,"Year":"2021"},{"x":21.1,"y":8.8,"Year":"2021"},{"x":44.0,"y":11.7,"Year":"2021"},
{"x":-0.8,"y":-0.7,"Year":"2022"},{"x":-4.1,"y":2.2,"Year":"2022"},{"x":13.5,"y":0.2,"Year":"2022"},{"x":80.0,"y":-0.4,"Year":"2022"},{"x":121.3,"y":5.8,"Year":"2022"},{"x":106.7,"y":4.7,"Year":"2022"},{"x":99.8,"y":10.3,"Year":"2022"},{"x":95.3,"y":5.1,"Year":"2022"},{"x":88.1,"y":7.3,"Year":"2022"},{"x":87.6,"y":6.7,"Year":"2022"},{"x":85.3,"y":3.6,"Year":"2022"},{"x":82.3,"y":4.7,"Year":"2022"},{"x":80.7,"y":5.8,"Year":"2022"},{"x":79.2,"y":3.2,"Year":"2022"},{"x":80.0,"y":2.5,"Year":"2022"},{"x":76.1,"y":2.8,"Year":"2022"},{"x":73.1,"y":3.9,"Year":"2022"},{"x":71.6,"y":5.4,"Year":"2022"},{"x":68.5,"y":4.3,"Year":"2022"},{"x":67.7,"y":2.8,"Year":"2022"},{"x":65.4,"y":4.7,"Year":"2022"},{"x":63.9,"y":5.8,"Year":"2022"},{"x":61.6,"y":2.2,"Year":"2022"},{"x":59.3,"y":2.8,"Year":"2022"},{"x":57.8,"y":4.3,"Year":"2022"},{"x":56.3,"y":5.1,"Year":"2022"},{"x":54.7,"y":2.8,"Year":"2022"},{"x":53.2,"y":5.8,"Year":"2022"},{"x":50.2,"y":1.3,"Year":"2022"},{"x":48.6,"y":3.9,"Year":"2022"},{"x":45.6,"y":4.3,"Year":"2022"},{"x":44.0,"y":3.2,"Year":"2022"},{"x":41.7,"y":5.1,"Year":"2022"},{"x":39.4,"y":6.5,"Year":"2022"},{"x":37.2,"y":8.0,"Year":"2022"},{"x":34.9,"y":4.3,"Year":"2022"},{"x":33.3,"y":2.5,"Year":"2022"},{"x":31.8,"y":8.0,"Year":"2022"},{"x":29.5,"y":3.9,"Year":"2022"},{"x":27.2,"y":2.5,"Year":"2022"},{"x":25.7,"y":5.8,"Year":"2022"},{"x":23.4,"y":5.1,"Year":"2022"},{"x":21.1,"y":2.8,"Year":"2022"},{"x":18.8,"y":2.5,"Year":"2022"},{"x":16.5,"y":2.5,"Year":"2022"},{"x":15.7,"y":4.3,"Year":"2022"},{"x":14.2,"y":7.3,"Year":"2022"},{"x":11.9,"y":8.0,"Year":"2022"},{"x":8.9,"y":8.9,"Year":"2022"},{"x":5.8,"y":9.1,"Year":"2022"},{"x":7.3,"y":4.7,"Year":"2022"},{"x":53.2,"y":10.8,"Year":"2022"},{"x":54.7,"y":9.1,"Year":"2022"},{"x":59.3,"y":8.0,"Year":"2022"},{"x":48.6,"y":8.8,"Year":"2022"},{"x":39.4,"y":10.3,"Year":"2022"},{"x":33.3,"y":8.8,"Year":"2022"},{"x":27.2,"y":9.5,"Year":"2022"},{"x":22.6,"y":8.0,"Year":"2022"},{"x":19.6,"y":5.1,"Year":"2022"},{"x":67.7,"y":9.5,"Year":"2022"},{"x":71.6,"y":10.3,"Year":"2022"},{"x":85.3,"y":9.5,"Year":"2022"},{"x":63.9,"y":2.8,"Year":"2022"}
],
"shf": [
{"x":21.9,"y":8.0,"Year":"2017"},{"x":26.0,"y":4.3,"Year":"2017"},{"x":30.2,"y":5.1,"Year":"2017"},{"x":33.3,"y":6.2,"Year":"2017"},{"x":35.4,"y":7.3,"Year":"2017"},{"x":38.0,"y":5.4,"Year":"2017"},{"x":44.7,"y":7.3,"Year":"2017"},{"x":47.6,"y":8.0,"Year":"2017"},{"x":51.0,"y":8.8,"Year":"2017"},{"x":54.1,"y":6.5,"Year":"2017"},{"x":57.2,"y":8.8,"Year":"2017"},{"x":48.9,"y":5.4,"Year":"2017"},
{"x":41.8,"y":23.3,"Year":"2018"},{"x":15.7,"y":17.5,"Year":"2018"},{"x":16.7,"y":15.1,"Year":"2018"},{"x":19.3,"y":14.0,"Year":"2018"},{"x":20.1,"y":11.4,"Year":"2018"},{"x":21.9,"y":10.3,"Year":"2018"},{"x":23.4,"y":11.7,"Year":"2018"},{"x":24.5,"y":10.3,"Year":"2018"},{"x":25.5,"y":8.8,"Year":"2018"},{"x":27.1,"y":8.0,"Year":"2018"},{"x":28.6,"y":9.5,"Year":"2018"},{"x":30.2,"y":6.5,"Year":"2018"},{"x":32.3,"y":12.5,"Year":"2018"},{"x":35.4,"y":4.7,"Year":"2018"},{"x":36.4,"y":5.1,"Year":"2018"},{"x":38.5,"y":9.1,"Year":"2018"},{"x":40.6,"y":9.5,"Year":"2018"},{"x":42.7,"y":10.3,"Year":"2018"},{"x":44.7,"y":11.7,"Year":"2018"},{"x":46.8,"y":8.8,"Year":"2018"},{"x":48.4,"y":6.5,"Year":"2018"},{"x":50.4,"y":12.9,"Year":"2018"},{"x":52.0,"y":14.3,"Year":"2018"},{"x":53.6,"y":11.7,"Year":"2018"},{"x":54.1,"y":7.7,"Year":"2018"},{"x":57.2,"y":6.5,"Year":"2018"},{"x":59.3,"y":12.6,"Year":"2018"},{"x":61.3,"y":11.0,"Year":"2018"},{"x":63.4,"y":9.7,"Year":"2018"},{"x":63.9,"y":16.4,"Year":"2018"},{"x":65.5,"y":5.1,"Year":"2018"},{"x":68.1,"y":1.3,"Year":"2018"},{"x":68.3,"y":11.9,"Year":"2018"},{"x":69.6,"y":8.8,"Year":"2018"},{"x":72.2,"y":9.5,"Year":"2018"},{"x":73.8,"y":8.8,"Year":"2018"},{"x":74.6,"y":7.3,"Year":"2018"},{"x":76.9,"y":12.9,"Year":"2018"},{"x":78.8,"y":4.9,"Year":"2018"},{"x":80.0,"y":8.5,"Year":"2018"},{"x":83.7,"y":3.9,"Year":"2018"},{"x":18.8,"y":11.0,"Year":"2018"},{"x":20.8,"y":8.8,"Year":"2018"},
{"x":37.1,"y":38.4,"Year":"2019"},{"x":27.3,"y":34.8,"Year":"2019"},{"x":22.6,"y":27.4,"Year":"2019"},{"x":23.9,"y":25.5,"Year":"2019"},{"x":30.0,"y":25.0,"Year":"2019"},{"x":16.7,"y":25.1,"Year":"2019"},{"x":18.3,"y":24.5,"Year":"2019"},{"x":26.6,"y":23.5,"Year":"2019"},{"x":27.1,"y":22.8,"Year":"2019"},{"x":18.3,"y":22.7,"Year":"2019"},{"x":21.9,"y":22.2,"Year":"2019"},{"x":41.6,"y":24.0,"Year":"2019"},{"x":43.0,"y":23.8,"Year":"2019"},{"x":47.5,"y":24.0,"Year":"2019"},{"x":49.9,"y":23.3,"Year":"2019"},{"x":52.5,"y":28.3,"Year":"2019"},{"x":54.9,"y":26.8,"Year":"2019"},{"x":56.2,"y":20.7,"Year":"2019"},{"x":56.0,"y":18.7,"Year":"2019"},{"x":27.6,"y":19.9,"Year":"2019"},{"x":25,"y":19.9,"Year":"2019"},{"x":24.2,"y":18.6,"Year":"2019"},{"x":23.1,"y":18.4,"Year":"2019"},{"x":20.3,"y":17.8,"Year":"2019"},{"x":17.7,"y":17.3,"Year":"2019"},{"x":26.0,"y":16.6,"Year":"2019"},{"x":30.5,"y":17.7,"Year":"2019"},{"x":34.3,"y":17.7,"Year":"2019"},{"x":36.9,"y":20.8,"Year":"2019"},{"x":38.3,"y":18.8,"Year":"2019"},{"x":36.9,"y":16.1,"Year":"2019"},{"x":34.3,"y":16.2,"Year":"2019"},{"x":41.6,"y":17.3,"Year":"2019"},{"x":43.7,"y":16.1,"Year":"2019"},{"x":44.7,"y":16.1,"Year":"2019"},{"x":48.2,"y":14.0,"Year":"2019"},{"x":47.3,"y":12.1,"Year":"2019"},{"x":41.6,"y":12.5,"Year":"2019"},{"x":33.3,"y":15.1,"Year":"2019"},{"x":32.3,"y":13.9,"Year":"2019"},{"x":70.2,"y":22.3,"Year":"2019"},{"x":82.1,"y":15.1,"Year":"2019"},{"x":82.1,"y":13.2,"Year":"2019"},{"x":84.2,"y":11.7,"Year":"2019"},{"x":89.9,"y":12.9,"Year":"2019"},{"x":101.3,"y":13.4,"Year":"2019"},{"x":105.5,"y":12.3,"Year":"2019"},{"x":70.7,"y":12.5,"Year":"2019"},{"x":72.8,"y":11.4,"Year":"2019"},{"x":75.9,"y":9.9,"Year":"2019"},{"x":78.0,"y":9.5,"Year":"2019"},{"x":79.5,"y":9.9,"Year":"2019"},{"x":81.1,"y":8.2,"Year":"2019"},{"x":83.2,"y":9.1,"Year":"2019"},{"x":84.2,"y":9.7,"Year":"2019"},{"x":86.2,"y":7.3,"Year":"2019"},{"x":87.3,"y":8.9,"Year":"2019"},{"x":90.9,"y":7.3,"Year":"2019"},{"x":94.6,"y":7.3,"Year":"2019"},{"x":94.8,"y":9.7,"Year":"2019"},{"x":97.2,"y":9.9,"Year":"2019"},{"x":98.2,"y":9.1,"Year":"2019"},{"x":99.8,"y":8.2,"Year":"2019"},{"x":102.4,"y":9.1,"Year":"2019"},{"x":103.4,"y":9.7,"Year":"2019"},{"x":105.0,"y":10.3,"Year":"2019"},{"x":76.9,"y":4.3,"Year":"2019"},{"x":78.0,"y":7.3,"Year":"2019"},{"x":66.0,"y":8.4,"Year":"2019"},{"x":15.7,"y":3.4,"Year":"2019"},{"x":54.1,"y":11.7,"Year":"2019"},{"x":61.3,"y":6.2,"Year":"2019"},
{"x":13.1,"y":11.0,"Year":"2020"},{"x":15.7,"y":12.9,"Year":"2020"},{"x":14.8,"y":8.5,"Year":"2020"},{"x":17.9,"y":7.3,"Year":"2020"},{"x":18.3,"y":9.4,"Year":"2020"},{"x":25.0,"y":12.6,"Year":"2020"},{"x":30.2,"y":8.8,"Year":"2020"},{"x":31.8,"y":9.1,"Year":"2020"},{"x":36.4,"y":17.0,"Year":"2020"},{"x":41.6,"y":12.5,"Year":"2020"},{"x":42.1,"y":8.4,"Year":"2020"},{"x":47.5,"y":17.7,"Year":"2020"},{"x":49.9,"y":8.8,"Year":"2020"},{"x":51.0,"y":8.0,"Year":"2020"},{"x":54.9,"y":14.6,"Year":"2020"},{"x":61.9,"y":6.9,"Year":"2020"},{"x":71.2,"y":6.5,"Year":"2020"},{"x":46.8,"y":6.5,"Year":"2020"},
{"x":8.4,"y":15.6,"Year":"2021"},{"x":8.9,"y":10.4,"Year":"2021"},{"x":10.0,"y":14.6,"Year":"2021"},{"x":15.7,"y":14.7,"Year":"2021"},{"x":16.2,"y":9.5,"Year":"2021"},{"x":18.3,"y":15.6,"Year":"2021"},{"x":21.9,"y":11.0,"Year":"2021"},{"x":26.0,"y":12.6,"Year":"2021"},{"x":27.6,"y":13.6,"Year":"2021"},{"x":31.2,"y":13.6,"Year":"2021"},{"x":38.0,"y":17.7,"Year":"2021"},{"x":42.7,"y":14.6,"Year":"2021"},{"x":43.7,"y":13.6,"Year":"2021"},{"x":44.7,"y":11.7,"Year":"2021"},{"x":47.6,"y":13.0,"Year":"2021"},{"x":48.1,"y":15.8,"Year":"2021"},{"x":50.1,"y":13.1,"Year":"2021"},{"x":51.5,"y":16.6,"Year":"2021"},{"x":53.0,"y":22.3,"Year":"2021"},{"x":53.2,"y":14.3,"Year":"2021"},{"x":59.3,"y":18.2,"Year":"2021"},{"x":59.8,"y":15.5,"Year":"2021"},{"x":61.3,"y":15.1,"Year":"2021"},{"x":63.4,"y":13.2,"Year":"2021"},{"x":65.0,"y":12.9,"Year":"2021"},{"x":66.0,"y":14.9,"Year":"2021"},{"x":68.1,"y":14.7,"Year":"2021"},{"x":70.7,"y":11.7,"Year":"2021"},{"x":74.8,"y":8.0,"Year":"2021"},{"x":88.9,"y":18.3,"Year":"2021"},{"x":96.4,"y":23.3,"Year":"2021"},{"x":105.8,"y":11.5,"Year":"2021"},{"x":35.4,"y":11.0,"Year":"2021"},{"x":38.5,"y":11.7,"Year":"2021"},{"x":57.2,"y":9.7,"Year":"2021"},{"x":63.4,"y":9.9,"Year":"2021"},{"x":55.1,"y":4.3,"Year":"2021"},{"x":40.6,"y":5.8,"Year":"2021"},
{"x":11.0,"y":14.3,"Year":"2022"},{"x":16.2,"y":2.8,"Year":"2022"},{"x":20.3,"y":4.5,"Year":"2022"},{"x":22.4,"y":4.5,"Year":"2022"},{"x":24.5,"y":2.1,"Year":"2022"},{"x":26.6,"y":0.2,"Year":"2022"},{"x":27.1,"y":2.8,"Year":"2022"},{"x":27.1,"y":3.9,"Year":"2022"},{"x":29.2,"y":4.3,"Year":"2022"},{"x":30.7,"y":4.3,"Year":"2022"},{"x":33.3,"y":2.5,"Year":"2022"},{"x":33.3,"y":4.3,"Year":"2022"},{"x":36.4,"y":4.7,"Year":"2022"},{"x":36.9,"y":1.7,"Year":"2022"},{"x":39.0,"y":4.3,"Year":"2022"},{"x":41.6,"y":5.1,"Year":"2022"},{"x":42.7,"y":4.3,"Year":"2022"},{"x":44.7,"y":2.5,"Year":"2022"},{"x":46.8,"y":5.1,"Year":"2022"},{"x":47.3,"y":3.9,"Year":"2022"},{"x":48.5,"y":-0.9,"Year":"2022"},{"x":51.0,"y":1.7,"Year":"2022"},{"x":52.0,"y":4.3,"Year":"2022"},{"x":54.1,"y":3.6,"Year":"2022"},{"x":55.6,"y":4.3,"Year":"2022"},{"x":57.2,"y":2.8,"Year":"2022"},{"x":59.3,"y":4.3,"Year":"2022"},{"x":60.8,"y":2.8,"Year":"2022"},{"x":62.4,"y":3.9,"Year":"2022"},{"x":64.5,"y":4.7,"Year":"2022"},{"x":66.6,"y":5.4,"Year":"2022"},{"x":67.6,"y":-0.5,"Year":"2022"},{"x":68.1,"y":5.8,"Year":"2022"},{"x":68.6,"y":3.6,"Year":"2022"},{"x":70.7,"y":3.6,"Year":"2022"},{"x":73.8,"y":3.9,"Year":"2022"},{"x":75.9,"y":3.6,"Year":"2022"},{"x":78.0,"y":2.5,"Year":"2022"},{"x":80.0,"y":2.8,"Year":"2022"},{"x":82.6,"y":2.5,"Year":"2022"},{"x":76.9,"y":6.9,"Year":"2022"},{"x":34.3,"y":11.0,"Year":"2022"},{"x":35.4,"y":8.8,"Year":"2022"},{"x":36.4,"y":7.7,"Year":"2022"},{"x":38.5,"y":10.3,"Year":"2022"},{"x":39.5,"y":8.8,"Year":"2022"},{"x":41.6,"y":9.1,"Year":"2022"},{"x":44.7,"y":8.0,"Year":"2022"},{"x":47.5,"y":11.7,"Year":"2022"},{"x":48.1,"y":13.6,"Year":"2022"},{"x":53.0,"y":9.5,"Year":"2022"},{"x":55.6,"y":12.5,"Year":"2022"},{"x":58.2,"y":10.3,"Year":"2022"},{"x":62.9,"y":8.0,"Year":"2022"},{"x":65.5,"y":6.5,"Year":"2022"},{"x":24.0,"y":8.0,"Year":"2022"},{"x":25.5,"y":10.3,"Year":"2022"},{"x":20.8,"y":8.8,"Year":"2022"},{"x":28.6,"y":9.1,"Year":"2022"},{"x":31.8,"y":7.3,"Year":"2022"}
]
},
"vconcat": [
{"spacing": 19, "hconcat": [
{"width": 326, "height": 192, "layer": [
 {"data": {"name": "sm"}, "mark": {"type": "circle", "size": 45, "opacity": 0.75},
  "encoding": {
   "x": {"field": "x", "type": "quantitative", "title": "Soil Moisture (%)", "scale": {"domain": [12.9, 70.8], "nice": false, "zero": false}, "axis": {"values": [20,30,40,50,60,70]}},
   "y": {"field": "y", "type": "quantitative", "title": "CH₄ Flux (nmol m⁻² s⁻¹)", "scale": {"domain": [-2.87, 40.37], "nice": false, "zero": false}, "axis": {"values": [0,10,20,30,40]}},
   "color": {"field": "Year", "type": "nominal", "scale": {"domain": ["2017","2018","2019","2020","2021","2022"], "range": ["#E41A1C","#377EB8","#4DAF4A","#984EA3","#FF7F00","#A65628"]}, "legend": {"title": "Year", "orient": "none", "legendX": 884, "legendY": 272}}}},
 {"data": {"name": "sm_fit"}, "mark": {"type": "area", "color": "#4DAF4A", "opacity": 0.22, "interpolate": "monotone"},
  "encoding": {"x": {"field": "x", "type": "quantitative", "title": "Soil Moisture (%)"}, "y": {"field": "lo", "type": "quantitative", "title": "CH₄ Flux (nmol m⁻² s⁻¹)"}, "y2": {"field": "hi"}}},
 {"data": {"name": "sm_fit"}, "mark": {"type": "line", "color": "#3FA33F", "strokeWidth": 2},
  "encoding": {"x": {"field": "x", "type": "quantitative", "title": "Soil Moisture (%)"}, "y": {"field": "fit", "type": "quantitative", "title": "CH₄ Flux (nmol m⁻² s⁻¹)"}}},
 {"data": {"name": "stats"}, "transform": [{"filter": "datum.panel === 'sm'"}], "mark": {"type": "text", "align": "right", "baseline": "top", "lineBreak": "\n", "fontSize": 9.5, "lineHeight": 10.7, "color": "#222"},
  "encoding": {"x": {"datum": 66.7, "type": "quantitative"}, "y": {"datum": 37.0, "type": "quantitative"}, "text": {"field": "label"}}}
]},
{"width": 326, "height": 192, "layer": [
 {"data": {"name": "vpd"}, "mark": {"type": "circle", "size": 45, "opacity": 0.75},
  "encoding": {
   "x": {"field": "x", "type": "quantitative", "title": "VPD (hPa)", "scale": {"domain": [0.18, 21.56], "nice": false, "zero": false}, "axis": {"values": [5,10,15,20]}},
   "y": {"field": "y", "type": "quantitative", "title": "CH₄ Flux (nmol m⁻² s⁻¹)", "scale": {"domain": [-2.87, 40.37], "nice": false, "zero": false}, "axis": {"values": [0,10,20,30,40]}},
   "color": {"field": "Year", "type": "nominal", "scale": {"domain": ["2017","2018","2019","2020","2021","2022"], "range": ["#E41A1C","#377EB8","#4DAF4A","#984EA3","#FF7F00","#A65628"]}, "legend": {"title": "Year", "orient": "none", "legendX": 884, "legendY": 272}}}},
 {"data": {"name": "vpd_fit"}, "mark": {"type": "area", "color": "#4DAF4A", "opacity": 0.22, "interpolate": "monotone"},
  "encoding": {"x": {"field": "x", "type": "quantitative", "title": "VPD (hPa)"}, "y": {"field": "lo", "type": "quantitative", "title": "CH₄ Flux (nmol m⁻² s⁻¹)"}, "y2": {"field": "hi"}}},
 {"data": {"name": "vpd_fit"}, "mark": {"type": "line", "color": "#3FA33F", "strokeWidth": 2},
  "encoding": {"x": {"field": "x", "type": "quantitative", "title": "VPD (hPa)"}, "y": {"field": "fit", "type": "quantitative", "title": "CH₄ Flux (nmol m⁻² s⁻¹)"}}},
 {"data": {"name": "stats"}, "transform": [{"filter": "datum.panel === 'vpd'"}], "mark": {"type": "text", "align": "right", "baseline": "top", "lineBreak": "\n", "fontSize": 9.5, "lineHeight": 10.7, "color": "#222"},
  "encoding": {"x": {"datum": 20.07, "type": "quantitative"}, "y": {"datum": 37.0, "type": "quantitative"}, "text": {"field": "label"}}}
]},
{"width": 326, "height": 192, "layer": [
 {"data": {"name": "rh"}, "mark": {"type": "circle", "size": 45, "opacity": 0.75},
  "encoding": {
   "x": {"field": "x", "type": "quantitative", "title": "RH (%)", "scale": {"domain": [17.7, 93.2], "nice": false, "zero": false}, "axis": {"values": [20,40,60,80]}},
   "y": {"field": "y", "type": "quantitative", "title": "CH₄ Flux (nmol m⁻² s⁻¹)", "scale": {"domain": [-2.87, 40.37], "nice": false, "zero": false}, "axis": {"values": [0,10,20,30,40]}},
   "color": {"field": "Year", "type": "nominal", "scale": {"domain": ["2017","2018","2019","2020","2021","2022"], "range": ["#E41A1C","#377EB8","#4DAF4A","#984EA3","#FF7F00","#A65628"]}, "legend": {"title": "Year", "orient": "none", "legendX": 884, "legendY": 272}}}},
 {"data": {"name": "rh_fit"}, "mark": {"type": "area", "color": "#4DAF4A", "opacity": 0.22, "interpolate": "monotone"},
  "encoding": {"x": {"field": "x", "type": "quantitative", "title": "RH (%)"}, "y": {"field": "lo", "type": "quantitative", "title": "CH₄ Flux (nmol m⁻² s⁻¹)"}, "y2": {"field": "hi"}}},
 {"data": {"name": "rh_fit"}, "mark": {"type": "line", "color": "#3FA33F", "strokeWidth": 2},
  "encoding": {"x": {"field": "x", "type": "quantitative", "title": "RH (%)"}, "y": {"field": "fit", "type": "quantitative", "title": "CH₄ Flux (nmol m⁻² s⁻¹)"}}},
 {"data": {"name": "stats"}, "transform": [{"filter": "datum.panel === 'rh'"}], "mark": {"type": "text", "align": "right", "baseline": "top", "lineBreak": "\n", "fontSize": 9.5, "lineHeight": 10.7, "color": "#222"},
  "encoding": {"x": {"datum": 88.2, "type": "quantitative"}, "y": {"datum": 37.0, "type": "quantitative"}, "text": {"field": "label"}}}
]}
]},
{"spacing": 19, "hconcat": [
{"width": 326, "height": 192, "layer": [
 {"data": {"name": "sh"}, "mark": {"type": "circle", "size": 45, "opacity": 0.75},
  "encoding": {
   "x": {"field": "x", "type": "quantitative", "title": "Sensible Heat (W/m²)", "scale": {"domain": [-24.8, 125], "nice": false, "zero": false}, "axis": {"values": [0,40,80,120]}},
   "y": {"field": "y", "type": "quantitative", "title": "CH₄ Flux (nmol m⁻² s⁻¹)", "scale": {"domain": [-2.87, 40.37], "nice": false, "zero": false}, "axis": {"values": [0,10,20,30,40]}},
   "color": {"field": "Year", "type": "nominal", "scale": {"domain": ["2017","2018","2019","2020","2021","2022"], "range": ["#E41A1C","#377EB8","#4DAF4A","#984EA3","#FF7F00","#A65628"]}, "legend": {"title": "Year", "orient": "none", "legendX": 884, "legendY": 272}}}},
 {"data": {"name": "sh_fit"}, "mark": {"type": "area", "color": "#4DAF4A", "opacity": 0.22, "interpolate": "monotone"},
  "encoding": {"x": {"field": "x", "type": "quantitative", "title": "Sensible Heat (W/m²)"}, "y": {"field": "lo", "type": "quantitative", "title": "CH₄ Flux (nmol m⁻² s⁻¹)"}, "y2": {"field": "hi"}}},
 {"data": {"name": "sh_fit"}, "mark": {"type": "line", "color": "#3FA33F", "strokeWidth": 2},
  "encoding": {"x": {"field": "x", "type": "quantitative", "title": "Sensible Heat (W/m²)"}, "y": {"field": "fit", "type": "quantitative", "title": "CH₄ Flux (nmol m⁻² s⁻¹)"}}},
 {"data": {"name": "stats"}, "transform": [{"filter": "datum.panel === 'sh'"}], "mark": {"type": "text", "align": "right", "baseline": "top", "lineBreak": "\n", "fontSize": 9.5, "lineHeight": 10.7, "color": "#222"},
  "encoding": {"x": {"datum": 114.4, "type": "quantitative"}, "y": {"datum": 37.0, "type": "quantitative"}, "text": {"field": "label"}}}
]},
{"width": 326, "height": 192, "layer": [
 {"data": {"name": "shf"}, "mark": {"type": "circle", "size": 45, "opacity": 0.75},
  "encoding": {
   "x": {"field": "x", "type": "quantitative", "title": "Soil Heat Flux (W/m²)", "scale": {"domain": [6.8, 108.2], "nice": false, "zero": false}, "axis": {"values": [25,50,75,100]}},
   "y": {"field": "y", "type": "quantitative", "title": "CH₄ Flux (nmol m⁻² s⁻¹)", "scale": {"domain": [-2.87, 40.37], "nice": false, "zero": false}, "axis": {"values": [0,10,20,30,40]}},
   "color": {"field": "Year", "type": "nominal", "scale": {"domain": ["2017","2018","2019","2020","2021","2022"], "range": ["#E41A1C","#377EB8","#4DAF4A","#984EA3","#FF7F00","#A65628"]}, "legend": {"title": "Year", "orient": "none", "legendX": 884, "legendY": 272}}}},
 {"data": {"name": "shf_fit"}, "mark": {"type": "area", "color": "#4DAF4A", "opacity": 0.22, "interpolate": "monotone"},
  "encoding": {"x": {"field": "x", "type": "quantitative", "title": "Soil Heat Flux (W/m²)"}, "y": {"field": "lo", "type": "quantitative", "title": "CH₄ Flux (nmol m⁻² s⁻¹)"}, "y2": {"field": "hi"}}},
 {"data": {"name": "shf_fit"}, "mark": {"type": "line", "color": "#3FA33F", "strokeWidth": 2},
  "encoding": {"x": {"field": "x", "type": "quantitative", "title": "Soil Heat Flux (W/m²)"}, "y": {"field": "fit", "type": "quantitative", "title": "CH₄ Flux (nmol m⁻² s⁻¹)"}}},
 {"data": {"name": "stats"}, "transform": [{"filter": "datum.panel === 'shf'"}], "mark": {"type": "text", "align": "right", "baseline": "top", "lineBreak": "\n", "fontSize": 9.5, "lineHeight": 10.7, "color": "#222"},
  "encoding": {"x": {"datum": 101.1, "type": "quantitative"}, "y": {"datum": 37.0, "type": "quantitative"}, "text": {"field": "label"}}}
]}
]}
],
"config": {
 "font": "Liberation Sans",
 "view": {"stroke": "#5A5A5A", "strokeWidth": 1},
 "axis": {"domain": false, "grid": true, "gridColor": "#EBEBEB", "gridWidth": 1, "tickColor": "#4D4D4D", "tickSize": 3, "labelColor": "#4D4D4D", "labelFontSize": 10, "titleColor": "#000", "titleFontSize": 11, "labelPadding": 2, "labelFlush": false, "labelOverlap": false},
 "axisX": {"titleFontWeight": "bold", "titlePadding": 3},
 "axisY": {"titleFontWeight": "normal", "titlePadding": 7},
 "legend": {"strokeColor": "#000", "strokeWidth": 1, "padding": 8, "titleFontSize": 12.5, "titleFontWeight": "normal", "titleColor": "#000", "titlePadding": 10, "labelFontSize": 11, "labelColor": "#222", "symbolSize": 40, "symbolType": "circle", "rowPadding": 8, "labelOffset": 12}
}
}
